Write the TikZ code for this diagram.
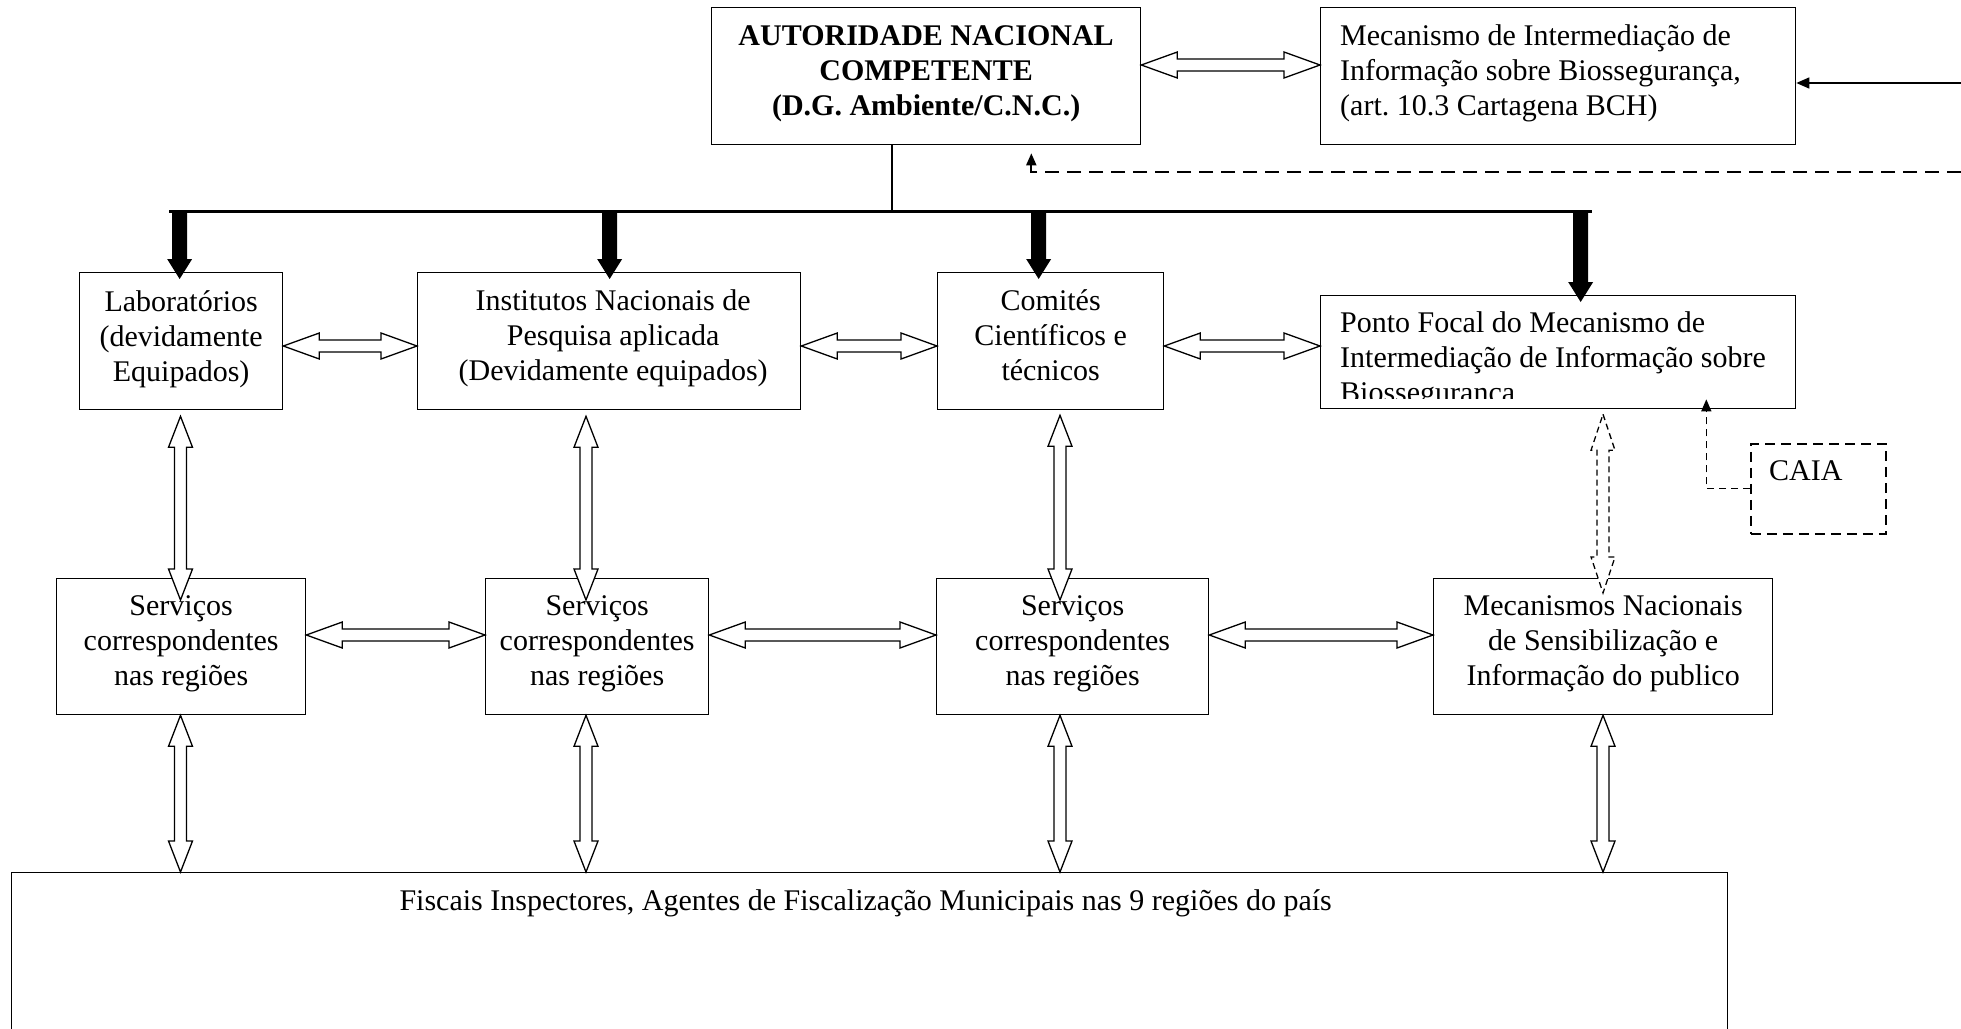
\documentclass[tikz,border=0pt]{standalone}
\usepackage{fontspec}
\setmainfont{Liberation Serif}
\usetikzlibrary{calc,arrows.meta}
\frenchspacing
\tikzset{
  box/.style={draw, line width=1.3pt, inner sep=0pt, anchor=north west},
  dbox/.style={box, dash pattern=on 10pt off 6pt, line width=1.5pt},
  txt/.style={inner sep=0pt, anchor=north, align=center, font=\fontsize{30pt}{35pt}\selectfont},
  btxt/.style={txt, font=\fontsize{30pt}{35pt}\selectfont\bfseries},
  ltxt/.style={txt, anchor=north west, align=left},
  hollow/.style={draw, fill=white, line width=1.3pt, line join=miter},
  dhollow/.style={hollow, dash pattern=on 6pt off 4pt},
  tip/.style={-{Triangle[length=12pt,width=10pt]}},
  dashconn/.style={line width=1.8pt, dash pattern=on 14pt off 8pt, tip},
  dotconn/.style={line width=1.3pt, dash pattern=on 7pt off 5pt, tip},
  solidconn/.style={line width=1.5pt, -{Triangle[length=13pt,width=11pt]}}
}
\newcommand\bx[6][box]{\node[#1, minimum width=#5pt, minimum height=#6pt] (#2) at (#3,#4) {};}
\newcommand\hdbl[3][hollow]{\path[#1] let \p1=#2, \p2=#3 in
  (\x1,\y1) -- (\x1+36pt,\y1+13pt) -- (\x1+36pt,\y1+6pt) -- (\x2-36pt,\y1+6pt) -- (\x2-36pt,\y1+13pt) --
  (\x2,\y1) -- (\x2-36pt,\y1-13pt) -- (\x2-36pt,\y1-6pt) -- (\x1+36pt,\y1-6pt) -- (\x1+36pt,\y1-13pt) -- cycle;}
\newcommand\vdbl[4][hollow]{\path[#1] let \p1=#3, \p2=#4 in
  (\x1,\y1) -- (\x1+12pt,\y1-#2pt) -- (\x1+6pt,\y1-#2pt) -- (\x1+6pt,\y2+#2pt) -- (\x1+12pt,\y2+#2pt) --
  (\x1,\y2) -- (\x1-12pt,\y2+#2pt) -- (\x1-6pt,\y2+#2pt) -- (\x1-6pt,\y1-#2pt) -- (\x1-12pt,\y1-#2pt) -- cycle;}
\newcommand\thk[2]{\fill let \p1=#1, \p2=#2 in
  (\x2-7.5pt,\y1) -- (\x2+7.5pt,\y1) -- (\x2+7.5pt,\y2+20pt) -- (\x2+12.5pt,\y2+20pt) --
  (\x2,\y2) -- (\x2-12.5pt,\y2+20pt) -- (\x2-7.5pt,\y2+20pt) -- cycle;}
\begin{document}
\begin{tikzpicture}[x=1pt,y=-1pt]
\useasboundingbox (0,0) rectangle (1961,1028);
\clip (0,0) rectangle (1961,1028);
% boxes
\bx{aut}{711}{7}{429}{137}
\bx{bch}{1320}{7}{475}{137}
\bx{lab}{79}{272}{203}{137}
\bx{inst}{417}{272}{383}{137}
\bx{com}{937}{272}{226}{137}
\bx{pf}{1320}{295}{475}{113}
\bx{sa}{56}{578}{249}{136}
\bx{sb}{485}{578}{223}{136}
\bx{sc}{936}{578}{272}{136}
\bx{mn}{1433}{578}{339}{136}
\bx[dbox]{caia}{1750}{443}{135}{90}
\bx{fisc}{11}{872}{1716}{180}
% helper coordinates
\coordinate (ya) at (0,65);
\coordinate (yb) at (0,346);
\coordinate (yc) at (0,635);
\coordinate (xa) at (180.5,0);
\coordinate (xb) at (586,0);
\coordinate (xc) at (1060,0);
\coordinate (xd) at (1603,0);
\coordinate (bar) at (0,211);
\coordinate (barL) at (169,211);
\coordinate (barR) at (1592,211);
\coordinate (stem) at (892,211);
\coordinate (bchR) at (1961,83);
\coordinate (dashR) at (1961,172);
% hierarchy lines
\draw[line width=2.5pt] (stem |- aut.south) -- (stem);
\draw[line width=3pt] (barL) -- (barR);
\thk{(bar)}{($(lab.north)+(-1.5,7)$)}
\thk{(bar)}{($(inst.north)+(0.5,7)$)}
\thk{(bar)}{($(com.north)+(-12,7)$)}
\thk{(bar)}{($(pf.north)+(22.5,7)$)}
% other connectors
\draw[solidconn] (bchR) -- (bch.east |- bchR);
\draw[dashconn] (dashR) -| ($(aut.south east)+(-110,8)$);
\draw[dotconn] (caia.west) -| ($(pf.south east)+(-90,-10)$);
% hollow double arrows
\hdbl{(aut.east |- ya)}{(bch.west |- ya)}
\hdbl{(lab.east |- yb)}{(inst.west |- yb)}
\hdbl{(inst.east |- yb)}{(com.west |- yb)}
\hdbl{(com.east |- yb)}{(pf.west |- yb)}
\hdbl{(sa.east |- yc)}{(sb.west |- yc)}
\hdbl{(sb.east |- yc)}{(sc.west |- yc)}
\hdbl{(sc.east |- yc)}{(mn.west |- yc)}
\vdbl{31}{($(xa |- lab.south)+(0,6)$)}{($(xa |- sa.north)+(0,22)$)}
\vdbl{31}{($(xb |- inst.south)+(0,6)$)}{($(xb |- sb.north)+(0,22)$)}
\vdbl{31}{($(xc |- com.south)+(0,5)$)}{($(xc |- sc.north)+(0,22)$)}
\vdbl[dhollow]{36}{($(xd |- pf.south)+(0,5)$)}{($(xd |- mn.north)+(0,15)$)}
\vdbl{31}{(xa |- sa.south)}{(xa |- fisc.north)}
\vdbl{31}{(xb |- sb.south)}{(xb |- fisc.north)}
\vdbl{31}{(xc |- sc.south)}{(xc |- fisc.north)}
\vdbl{31}{(xd |- mn.south)}{(xd |- fisc.north)}
% texts
\node[btxt] (autT) at ([yshift=-13.5pt]aut.north) {\strut AUTORIDADE NACIONAL\\COMPETENTE\\(D.G. Ambiente/C.N.C.)};
\node[ltxt] (bchT) at ([xshift=20pt,yshift=-13.5pt]bch.north west) {\strut Mecanismo de Intermediação de\\Informação sobre Biossegurança,\\(art. 10.3 Cartagena BCH)};
\node[txt] (labT) at ([yshift=-14.5pt]lab.north) {\strut Laboratórios\\(devidamente\\Equipados)};
\node[txt] (instT) at ([xshift=4pt,yshift=-13.5pt]inst.north) {\strut Institutos Nacionais de\\Pesquisa aplicada\\(Devidamente equipados)};
\node[txt] (comT) at ([yshift=-13.5pt]com.north) {\strut Comités\\Científicos e\\técnicos};
\begin{scope}
\clip (pf.north west) rectangle ($(pf.south east)+(0,-11)$);
\node[ltxt] (pfT) at ([xshift=20pt,yshift=-12.5pt]pf.north west) {\strut Ponto Focal do Mecanismo de\\Intermediação de Informação sobre\\Biossegurança};
\end{scope}
\node[txt] (saT) at ([yshift=-12.5pt]sa.north) {\strut Serviços\\correspondentes\\nas regiões};
\node[txt] (sbT) at ([yshift=-12.5pt]sb.north) {\strut Serviços\\correspondentes\\nas regiões};
\node[txt] (scT) at ([yshift=-12.5pt]sc.north) {\strut Serviços\\correspondentes\\nas regiões};
\node[txt] (mnT) at ([yshift=-12.5pt]mn.north) {\strut Mecanismos Nacionais\\de Sensibilização e\\Informação do publico};
\node[ltxt] (caiaT) at ([xshift=19pt,yshift=-12.5pt]caia.north west) {\strut CAIA};
\node[txt] (fiscT) at ([xshift=-4pt,yshift=-13.5pt]fisc.north) {\strut Fiscais Inspectores, Agentes de Fiscalização Municipais nas 9 regiões do país};
\end{tikzpicture}
\end{document}
